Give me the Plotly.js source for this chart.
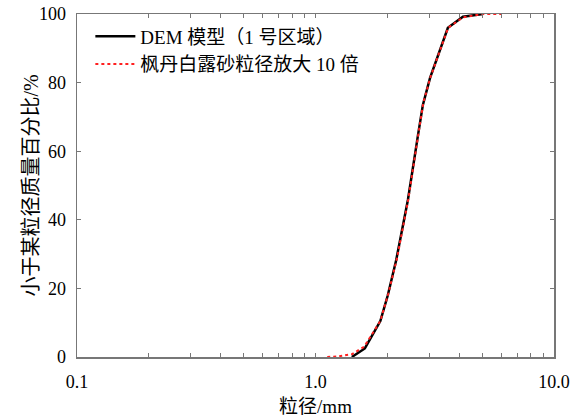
<!DOCTYPE html>
<html>
<head>
<meta charset="utf-8">
<script src="https://cdn.plot.ly/plotly-3.0.1.min.js"></script>
<style>html,body{margin:0;padding:0;background:#fff;}#chart{width:580px;height:417px;}</style>
</head>
<body>
<div id="chart"></div>
<script>
// DEM model (region 1)
const demSize = [1.42, 1.61, 1.87, 2.01, 2.18, 2.44, 2.69, 2.82, 3.02, 3.59, 4.15, 5.04];
const demPass = [0, 2.5, 10.5, 18, 28.3, 45.8, 64.7, 73.5, 81.3, 96, 99.2, 100];
// Fengdanbai sand grain size x10
const sandSize = [1.12, 1.25, 1.42, 1.6, 1.87, 2.02, 2.2, 2.45, 2.7, 2.83, 3.03, 3.6, 4.15, 5.0, 6.0];
const sandPass = [0, 0.2, 0.8, 3, 10.5, 18.5, 29, 46, 65, 74, 81.5, 96, 99, 100, 100];

const xTickVals = [0.1,0.2,0.3,0.4,0.5,0.6,0.7,0.8,0.9,1,2,3,4,5,6,7,8,9,10];
const xTickText = ["0.1","","","","","","","","","1.0","","","","","","","","","10.0"];
const yTickVals = [0,20,40,60,80,100];

const seriesNames = ["DEM 模型（1 号区域）", "枫丹白露砂粒径放大 10 倍"];
const xTitle = "粒径/mm";
const yTitle = "小于某粒径质量百分比/%";

const fontFam = "'Liberation Serif', 'Noto Sans CJK SC', serif";

const traces = [
  {x: demSize, y: demPass, type: 'scatter', mode: 'lines', name: seriesNames[0],
   line: {color: '#000000', width: 2.5}},
  {x: sandSize, y: sandPass, type: 'scatter', mode: 'lines', name: seriesNames[1],
   line: {color: '#ff2020', width: 2, dash: 'dot'}}
];

const layout = {
  width: 580, height: 417,
  margin: {l: 77, r: 26, t: 14, b: 60},
  paper_bgcolor: '#fff', plot_bgcolor: '#fff',
  font: {family: fontFam, size: 18, color: '#000'},
  showlegend: true,
  legend: {x: 0.028, y: 0.99, xanchor: 'left', yanchor: 'top', bgcolor: 'rgba(0,0,0,0)',
           font: {family: fontFam, size: 19}, tracegroupgap: 0, itemwidth: 40},
  xaxis: {
    type: 'log', range: [-1, 1],
    tickmode: 'array', tickvals: xTickVals, ticktext: xTickText,
    ticks: 'inside', ticklen: 4, tickcolor: '#777', tickwidth: 1,
    showline: true, linecolor: '#777', linewidth: 1.5, mirror: 'ticks',
    showgrid: false, zeroline: false,
    ticklabelstandoff: 8,
    tickfont: {family: fontFam, size: 18},
    title: {text: xTitle, font: {family: fontFam, size: 19}, standoff: 8}
  },
  yaxis: {
    range: [0, 100],
    tickmode: 'array', tickvals: yTickVals,
    ticks: 'inside', ticklen: 4, tickcolor: '#777', tickwidth: 1,
    showline: true, linecolor: '#777', linewidth: 1.5, mirror: 'ticks',
    showgrid: false, zeroline: false,
    ticklabelstandoff: 6,
    tickfont: {family: fontFam, size: 18}
  },
  annotations: [{
    text: yTitle, textangle: -90, showarrow: false,
    xref: 'paper', yref: 'paper', x: -0.0985, y: 0.5,
    xanchor: 'center', yanchor: 'middle',
    font: {family: fontFam, size: 20, color: '#000'}
  }]
};

Plotly.newPlot('chart', traces, layout, {staticPlot: true, displayModeBar: false});
</script>
</body>
</html>
